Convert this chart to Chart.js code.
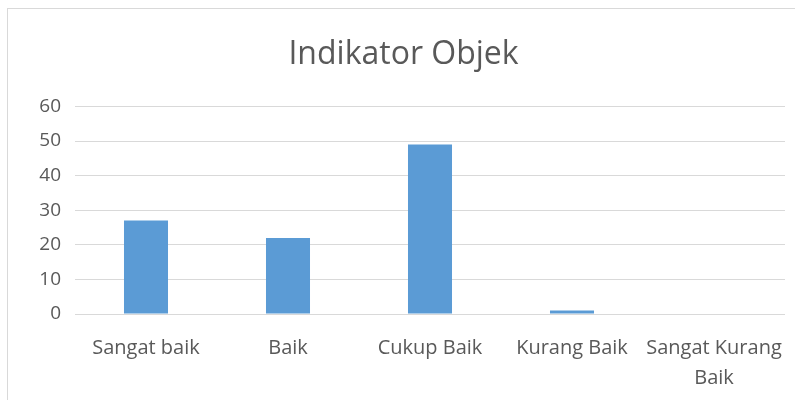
<!DOCTYPE html>
<html>
<head>
<meta charset="utf-8">
<script src="https://cdn.jsdelivr.net/npm/chart.js@4"></script>
<style>
  html, body { margin: 0; padding: 0; background: #fff; overflow: hidden; }
  #wrap { position: relative; width: 795px; height: 400px; }
  #frame { position: absolute; left: 7px; top: 8px; width: 800px; height: 400px; border: 1px solid #d9d9d9; }
  canvas { position: absolute; left: 0; top: 0; }
</style>
</head>
<body>
<div id="wrap">
  <div id="frame"></div>
  <canvas id="chart" width="795" height="400"></canvas>
</div>
<script>
var categories = ['Sangat baik', 'Baik', 'Cukup Baik', 'Kurang Baik', ['Sangat Kurang', 'Baik']];
var values = [27, 22, 49, 1, 0];
var yTicks = [0, 10, 20, 30, 40, 50, 60];

document.addEventListener('DOMContentLoaded', function () {
    var ctx = document.getElementById('chart').getContext('2d');
    var chart = new Chart(ctx, {
        type: 'bar',
        data: {
            labels: categories,
            datasets: [{
                label: 'Indikator Objek',
                data: values,
                backgroundColor: '#5b9bd5',
                borderWidth: 0,
                categoryPercentage: 1,
                barPercentage: 0.31
            }]
        },
        options: {
            responsive: false,
            animation: false,
            layout: { padding: { left: 22, right: 10, top: 0, bottom: 0 } },
            plugins: {
                legend: { display: false },
                tooltip: { enabled: false },
                title: {
                    display: true,
                    text: 'Indikator Objek',
                    color: '#595959',
                    font: { family: 'Open Sans', size: 32, weight: 'normal', lineHeight: 1.2 },
                    padding: { top: 36, bottom: 32 }
                }
            },
            scales: {
                x: {
                    grid: { display: false },
                    border: { display: false },
                    ticks: {
                        color: '#595959',
                        font: { family: 'Open Sans', size: 20, lineHeight: 1.5 },
                        padding: 11,
                        maxRotation: 0,
                        autoSkip: false
                    },
                    afterFit: function (s) { s.height = 86; }
                },
                y: {
                    min: 0,
                    max: 60,
                    afterBuildTicks: function (s) {
                        s.ticks = yTicks.map(function (v) { return { value: v }; });
                    },
                    grid: { color: '#d9d9d9', lineWidth: 1, drawTicks: false },
                    border: { display: false },
                    ticks: {
                        color: '#595959',
                        font: { family: 'Open Sans', size: 19 },
                        padding: 14
                    },
                    afterFit: function (s) { s.width = 53; }
                }
            }
        }
    });
});
</script>
</body>
</html>
